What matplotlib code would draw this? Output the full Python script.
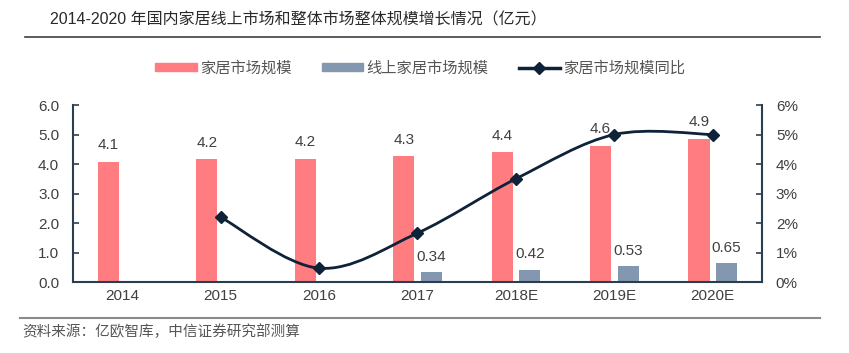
import matplotlib.pyplot as plt
from matplotlib.path import Path
from matplotlib.patches import PathPatch, Patch
from matplotlib.lines import Line2D
import numpy as np

plt.rcParams['font.family'] = ['Liberation Sans', 'Noto Sans CJK SC', 'DejaVu Sans']

years = ['2014', '2015', '2016', '2017', '2018E', '2019E', '2020E']
total = [4.07, 4.16, 4.18, 4.26, 4.40, 4.62, 4.86]       # 家居市场规模
online = [np.nan, np.nan, np.nan, 0.34, 0.42, 0.53, 0.65]  # 线上家居市场规模
yoy = [np.nan, 2.2, 0.47, 1.66, 3.5, 5.0, 5.0]            # 家居市场规模同比 (%)

red = '#ff7c80'
blue = '#8497b0'
navy = '#0e2238'
txt = '#404040'
axc = '#2b3e50'

fig = plt.figure(figsize=(8.49, 3.53), dpi=100)
ax = fig.add_axes([0.086, 0.201, 0.8115, 0.5015])
ax2 = ax.twinx()

x = np.arange(len(years))
w = 0.215
off = 0.14
ax.bar(x - off, total, w, color=red, zorder=2)
ax.bar(x + off, online, w, color=blue, zorder=2)

for xi, v in zip(x, total):
    ax.annotate(f'{v:.1f}', (xi - off, v), xytext=(0, 7), textcoords='offset points',
                ha='center', va='bottom', fontsize=11, color=txt)
for xi, v in zip(x, online):
    if not np.isnan(v):
        ax.annotate(f'{v:.2f}', (xi + off, v), xytext=(0, 6), textcoords='offset points',
                    ha='center', va='bottom', fontsize=11, color=txt)

# smoothed line (Catmull-Rom style bezier through the points)
pts = [(xi, v) for xi, v in zip(x, yoy) if not np.isnan(v)]
P = np.array(pts, dtype=float)
verts = [tuple(P[0])]
codes = [Path.MOVETO]
n = len(P)
for i in range(n - 1):
    p0 = P[i - 1] if i > 0 else P[i]
    p3 = P[i + 2] if i + 2 < n else P[i + 1]
    c1 = P[i] + (P[i + 1] - p0) / 6
    c2 = P[i + 1] - (p3 - P[i]) / 6
    verts += [tuple(c1), tuple(c2), tuple(P[i + 1])]
    codes += [Path.CURVE4] * 3
ax2.add_patch(PathPatch(Path(verts, codes), fill=False, edgecolor=navy, lw=2, zorder=3))
ax2.plot(P[:, 0], P[:, 1], ls='none', marker='D', ms=6.5, color=navy, zorder=4)

ax.set_xlim(-0.5, len(years) - 0.5)
ax.set_ylim(0, 6)
ax2.set_ylim(0, 6)
ax.set_yticks(np.arange(0, 6.1, 1.0))
ax.set_yticklabels([f'{t:.1f}' for t in np.arange(0, 6.1, 1.0)])
ax2.set_yticks(range(0, 7))
ax2.set_yticklabels([f'{t}%' for t in range(0, 7)])
ax.set_xticks(x)
ax.set_xticklabels(years)

for a in (ax, ax2):
    a.spines['top'].set_visible(False)
    for s in ('left', 'right', 'bottom'):
        a.spines[s].set_color(axc)
        a.spines[s].set_linewidth(1.5)
ax.spines['right'].set_visible(False)
ax2.spines['left'].set_visible(False)
ax2.spines['bottom'].set_visible(False)
ax.tick_params(axis='y', direction='in', length=4, width=1.2, color=axc, pad=10,
               labelsize=11, labelcolor=txt)
ax2.tick_params(axis='y', direction='in', length=4, width=1.2, color=axc, pad=10,
                labelsize=11, labelcolor=txt)
ax.tick_params(axis='x', length=0, pad=5, labelsize=11, labelcolor=txt)

# title and rules
fig.text(0.059, 0.943, '2014-2020 年国内家居线上市场和整体市场整体规模增长情况（亿元）',
         fontsize=11.5, color='#2a2a2a', ha='left', va='center')
fig.add_artist(Line2D([0.03, 0.966], [0.895, 0.895], color='#404040', lw=1.2))
fig.add_artist(Line2D([0.024, 0.966], [0.099, 0.099], color='#8a8a8a', lw=1.5))
fig.text(0.026, 0.06, '资料来源：亿欧智库，中信证券研究部测算', fontsize=10.5,
         color='#555555', ha='left', va='center')

handles = [Patch(color=red), Patch(color=blue),
           Line2D([], [], color=navy, lw=2.5, marker='D', ms=6)]
labels = ['家居市场规模', '线上家居市场规模', '家居市场规模同比']
fig.legend(handles, labels, loc='center', bbox_to_anchor=(0.495, 0.807), ncol=3,
           frameon=False, fontsize=11, handlelength=2.7, handleheight=0.5,
           handletextpad=0.2, columnspacing=2.0, labelcolor='#555555')

fig.savefig('out.png', dpi=100, facecolor='white')
